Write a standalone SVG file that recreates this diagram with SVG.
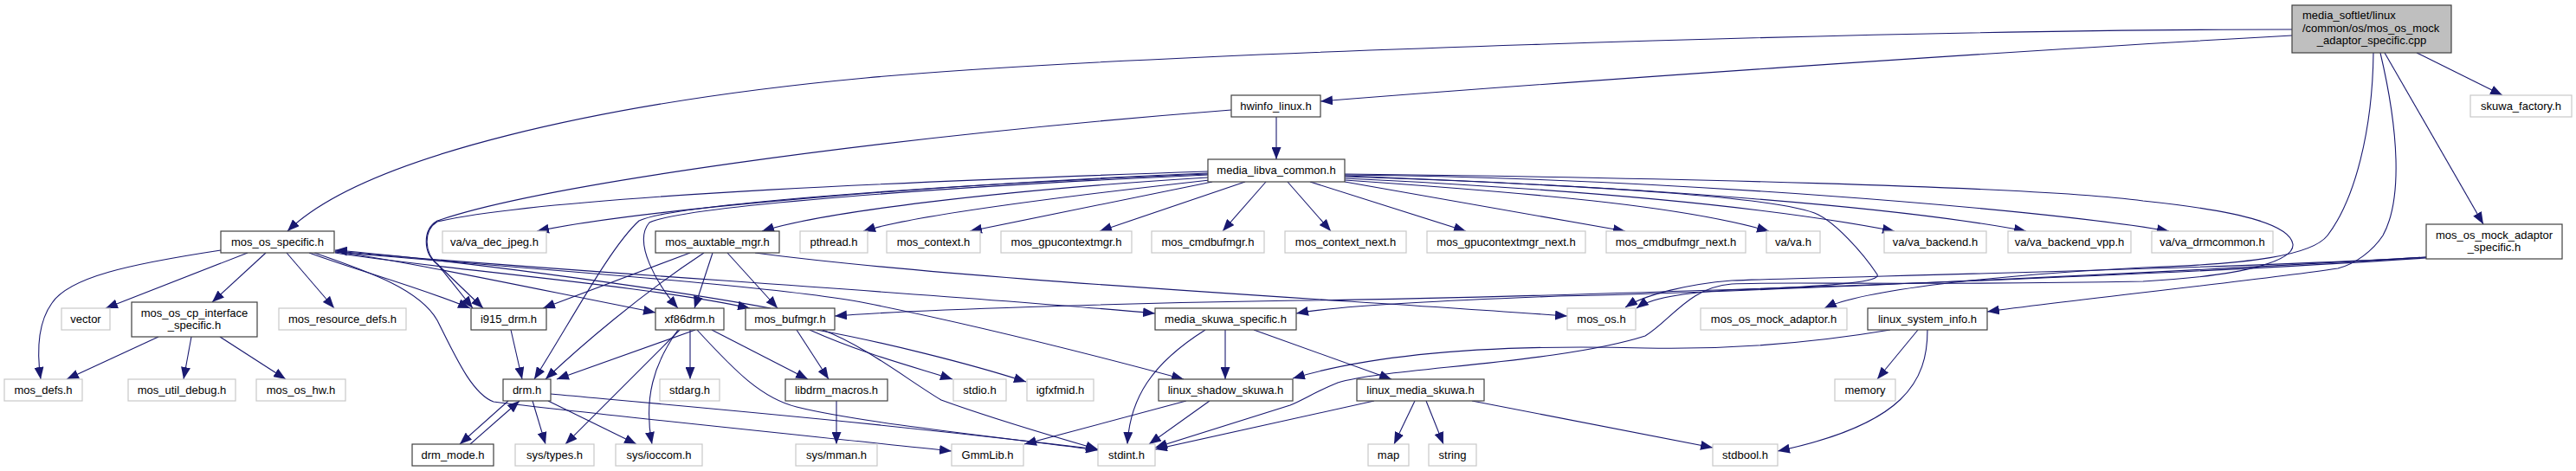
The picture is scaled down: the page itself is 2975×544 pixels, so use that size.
<svg xmlns="http://www.w3.org/2000/svg" width="2975" height="544" viewBox="0 0 2975 544">
<style>
text{font-family:"Liberation Sans",Arial,sans-serif;font-size:13px;fill:#000;text-anchor:middle}
.d rect{fill:#fff;stroke:#404040;stroke-width:1.2}
.g rect{fill:#fff;stroke:#c8c8c8;stroke-width:1.2}
.r rect{fill:#bfbfbf;stroke:#404040;stroke-width:1.2}
#edges path{fill:none;stroke:#191970;stroke-width:1.1;marker-end:url(#a)}
</style>
<defs>
<marker id="a" markerWidth="14" markerHeight="11" refX="14" refY="5.5" orient="auto" markerUnits="userSpaceOnUse"><path d="M0,0 L14,5.5 L0,11 z" fill="#191970"/></marker>
</defs>
<rect width="2975" height="544" fill="#fff"/>
<g id="edges">
<path d="M2647,34 C2200,34 1300,62 1000,90 C700,118 420,180 332,267"/>
<path d="M2647,41 C2300,60 1800,95 1525,117"/>
<path d="M2791,61 L2890,110"/>
<path d="M2754,61 L2868,259"/>
<path d="M1474,135 L1474,184"/>
<path d="M1422,127 C1000,160 620,215 505,255 C488,265 488,292 505,305 L558,356"/>
<path d="M1395,198 C1100,208 640,225 505,256 C489,266 489,292 506,306 L546,356"/>
<path d="M1395,200 C1100,212 750,240 620,267"/>
<path d="M1395,201 C1100,213 780,235 738,255 C705,285 660,370 617,438"/>
<path d="M1395,202 C1100,215 790,238 750,257 C730,280 760,330 783,356"/>
<path d="M1395,205 C1150,220 950,245 880,267"/>
<path d="M1397,208 C1200,230 1050,250 997,267"/>
<path d="M1400,210 L1120,267"/>
<path d="M1438,210 L1270,267"/>
<path d="M1462,210 L1412,267"/>
<path d="M1487,210 L1537,267"/>
<path d="M1513,210 L1693,267"/>
<path d="M1553,210 L1877,267"/>
<path d="M1553,208 C1800,225 1950,240 2043,267"/>
<path d="M1553,206 C1850,220 2050,240 2188,267"/>
<path d="M1553,204 C1900,215 2200,240 2340,267"/>
<path d="M1553,202 C1900,205 2350,240 2505,267"/>
<path d="M1553,203 C1850,215 2060,228 2100,248 C2120,258 2150,290 2168,317 C2172,325 2130,330 2000,335 C1940,338 1905,345 1890,356"/>
<path d="M1553,201 C1900,205 2350,215 2475,232 C2600,245 2645,262 2648,282 C2650,300 2600,318 2475,325 C2200,330 2050,325 2000,328 C1950,332 1930,370 1900,388 C1800,420 1600,425 1545,442 C1520,452 1505,462 1490,468 L1334,517"/>
<path d="M286,292 L122,356"/>
<path d="M307,292 L245,349"/>
<path d="M331,292 L386,356"/>
<path d="M255,289 C150,305 80,320 60,350 C42,375 43,410 47,438"/>
<path d="M183,389 L77,438"/>
<path d="M221,389 L212,438"/>
<path d="M254,389 L330,438"/>
<path d="M357,292 C420,315 480,330 543,356"/>
<path d="M363,292 C430,315 485,335 505,370 C525,410 545,455 570,464 C700,480 950,505 1099,521"/>
<path d="M387,291 C450,298 600,330 757,361"/>
<path d="M387,292 C500,310 750,330 866,356"/>
<path d="M890,356 C750,330 500,298 387,289"/>
<path d="M387,290 C600,310 1100,340 1334,362"/>
<path d="M387,291 C600,310 900,330 1000,350 C1150,380 1300,420 1367,438"/>
<path d="M797,292 L627,356"/>
<path d="M813,292 C740,340 670,400 630,438"/>
<path d="M823,292 L802,356"/>
<path d="M840,292 L898,356"/>
<path d="M872,292 C1100,322 1500,343 1810,365"/>
<path d="M590,381 L603,438"/>
<path d="M803,381 L643,438"/>
<path d="M785,381 L653,513"/>
<path d="M783,381 C755,420 743,460 753,513"/>
<path d="M797,381 L797,438"/>
<path d="M822,381 L933,438"/>
<path d="M805,381 C850,430 880,460 920,470 C1000,490 1200,510 1268,520"/>
<path d="M920,381 L957,438"/>
<path d="M935,381 C1000,410 1060,425 1100,438"/>
<path d="M943,381 C1020,395 1120,420 1185,441"/>
<path d="M950,381 C1000,400 1050,440 1087,462 C1150,485 1220,505 1268,519"/>
<path d="M587,463 L531,513"/>
<path d="M543,513 L600,463"/>
<path d="M615,463 L630,513"/>
<path d="M633,463 L735,513"/>
<path d="M636,455 C800,470 1000,487 1268,519"/>
<path d="M966,463 L966,513"/>
<path d="M1415,381 L1415,438"/>
<path d="M1392,381 C1330,420 1305,460 1302,513"/>
<path d="M1448,381 L1607,438"/>
<path d="M1370,463 L1183,513"/>
<path d="M1397,463 L1327,513"/>
<path d="M1634,463 L1610,513"/>
<path d="M1647,463 L1667,513"/>
<path d="M1700,463 L1978,517"/>
<path d="M1587,463 L1334,519"/>
<path d="M2215,381 L2168,438"/>
<path d="M2226,381 C2226,440 2200,490 2053,521"/>
<path d="M2183,381 C2100,395 2000,404 1900,402 C1750,398 1600,405 1493,437"/>
<path d="M2741,61 C2740,150 2720,230 2688,272 C2670,295 2600,305 2475,309 C2300,318 2150,335 2107,356"/>
<path d="M2749,61 C2770,150 2775,230 2752,272 C2740,290 2720,305 2700,310 C2600,325 2400,345 2295,360"/>
<path d="M2802,297 C2600,310 2100,320 2000,324 C1950,328 1900,340 1877,355"/>
<path d="M2802,297 C2500,315 2000,338 1800,342 C1700,346 1550,352 1497,362"/>
<path d="M2802,298 C2400,325 1700,345 1500,347 C1300,350 1050,358 964,365"/>
</g>
<g id="root" class="r"><rect x="2647" y="6" width="184" height="55"/><text x="2659" y="22" style="text-anchor:start">media_softlet/linux</text><text x="2659" y="37" style="text-anchor:start">/common/os/mos_os_mock</text><text x="2739" y="51">_adaptor_specific.cpp</text></g>
<g id="hwinfo_linux" class="d"><rect x="1422" y="110" width="103" height="25"/><text x="1473.5" y="127">hwinfo_linux.h</text></g>
<g id="skuwa_factory" class="g"><rect x="2853" y="110" width="117" height="25"/><text x="2911.5" y="127">skuwa_factory.h</text></g>
<g id="media_libva_common" class="d"><rect x="1395" y="184" width="158" height="26"/><text x="1474" y="201">media_libva_common.h</text></g>
<g id="mos_os_specific" class="d"><rect x="255" y="267" width="131" height="25"/><text x="320.5" y="284">mos_os_specific.h</text></g>
<g id="va_dec_jpeg" class="g"><rect x="511" y="267" width="120" height="25"/><text x="571" y="284">va/va_dec_jpeg.h</text></g>
<g id="mos_auxtable_mgr" class="d"><rect x="757" y="267" width="143" height="25"/><text x="828.5" y="284">mos_auxtable_mgr.h</text></g>
<g id="pthread" class="g"><rect x="924" y="267" width="78" height="25"/><text x="963" y="284">pthread.h</text></g>
<g id="mos_context" class="g"><rect x="1024" y="267" width="108" height="25"/><text x="1078" y="284">mos_context.h</text></g>
<g id="mos_gpucontextmgr" class="g"><rect x="1156" y="267" width="151" height="25"/><text x="1231.5" y="284">mos_gpucontextmgr.h</text></g>
<g id="mos_cmdbufmgr" class="g"><rect x="1330" y="267" width="130" height="25"/><text x="1395" y="284">mos_cmdbufmgr.h</text></g>
<g id="mos_context_next" class="g"><rect x="1484" y="267" width="140" height="25"/><text x="1554" y="284">mos_context_next.h</text></g>
<g id="mos_gpucontextmgr_next" class="g"><rect x="1648" y="267" width="183" height="25"/><text x="1739.5" y="284">mos_gpucontextmgr_next.h</text></g>
<g id="mos_cmdbufmgr_next" class="g"><rect x="1855" y="267" width="161" height="25"/><text x="1935.5" y="284">mos_cmdbufmgr_next.h</text></g>
<g id="va_va" class="g"><rect x="2040" y="267" width="62" height="25"/><text x="2071" y="284">va/va.h</text></g>
<g id="va_backend" class="g"><rect x="2176" y="267" width="118" height="25"/><text x="2235" y="284">va/va_backend.h</text></g>
<g id="va_backend_vpp" class="g"><rect x="2319" y="267" width="142" height="25"/><text x="2390" y="284">va/va_backend_vpp.h</text></g>
<g id="va_drmcommon" class="g"><rect x="2485" y="267" width="140" height="25"/><text x="2555" y="284">va/va_drmcommon.h</text></g>
<g id="mos_os_mock_adaptor_specific" class="d"><rect x="2802" y="259" width="157" height="40"/><text x="2880.5" y="276">mos_os_mock_adaptor</text><text x="2880.5" y="290">_specific.h</text></g>
<g id="vector" class="g"><rect x="71" y="356" width="56" height="25"/><text x="99" y="373">vector</text></g>
<g id="mos_os_cp_interface_specific" class="d"><rect x="152" y="349" width="145" height="40"/><text x="224.5" y="366">mos_os_cp_interface</text><text x="224.5" y="380">_specific.h</text></g>
<g id="mos_resource_defs" class="g"><rect x="322" y="356" width="147" height="25"/><text x="395.5" y="373">mos_resource_defs.h</text></g>
<g id="i915_drm" class="d"><rect x="544" y="356" width="87" height="25"/><text x="587.5" y="373">i915_drm.h</text></g>
<g id="xf86drm" class="d"><rect x="757" y="356" width="79" height="25"/><text x="796.5" y="373">xf86drm.h</text></g>
<g id="mos_bufmgr" class="d"><rect x="861" y="356" width="103" height="25"/><text x="912.5" y="373">mos_bufmgr.h</text></g>
<g id="media_skuwa_specific" class="d"><rect x="1334" y="356" width="163" height="25"/><text x="1415.5" y="373">media_skuwa_specific.h</text></g>
<g id="mos_os" class="g"><rect x="1810" y="356" width="79" height="25"/><text x="1849.5" y="373">mos_os.h</text></g>
<g id="mos_os_mock_adaptor" class="g"><rect x="1964" y="356" width="169" height="25"/><text x="2048.5" y="373">mos_os_mock_adaptor.h</text></g>
<g id="linux_system_info" class="d"><rect x="2157" y="356" width="138" height="25"/><text x="2226" y="373">linux_system_info.h</text></g>
<g id="mos_defs" class="g"><rect x="5" y="438" width="90" height="25"/><text x="50" y="455">mos_defs.h</text></g>
<g id="mos_util_debug" class="g"><rect x="148" y="438" width="124" height="25"/><text x="210" y="455">mos_util_debug.h</text></g>
<g id="mos_os_hw" class="g"><rect x="296" y="438" width="103" height="25"/><text x="347.5" y="455">mos_os_hw.h</text></g>
<g id="drm" class="d"><rect x="581" y="438" width="55" height="25"/><text x="608.5" y="455">drm.h</text></g>
<g id="stdarg" class="g"><rect x="762" y="438" width="69" height="25"/><text x="796.5" y="455">stdarg.h</text></g>
<g id="libdrm_macros" class="d"><rect x="907" y="438" width="118" height="25"/><text x="966" y="455">libdrm_macros.h</text></g>
<g id="stdio" class="g"><rect x="1101" y="438" width="61" height="25"/><text x="1131.5" y="455">stdio.h</text></g>
<g id="igfxfmid" class="g"><rect x="1186" y="438" width="77" height="25"/><text x="1224.5" y="455">igfxfmid.h</text></g>
<g id="linux_shadow_skuwa" class="d"><rect x="1338" y="438" width="155" height="25"/><text x="1415.5" y="455">linux_shadow_skuwa.h</text></g>
<g id="linux_media_skuwa" class="d"><rect x="1567" y="438" width="147" height="25"/><text x="1640.5" y="455">linux_media_skuwa.h</text></g>
<g id="memory" class="g"><rect x="2119" y="438" width="70" height="25"/><text x="2154" y="455">memory</text></g>
<g id="drm_mode" class="d"><rect x="476" y="513" width="94" height="25"/><text x="523" y="530">drm_mode.h</text></g>
<g id="sys_types" class="g"><rect x="595" y="513" width="91" height="25"/><text x="640.5" y="530">sys/types.h</text></g>
<g id="sys_ioccom" class="g"><rect x="711" y="513" width="100" height="25"/><text x="761" y="530">sys/ioccom.h</text></g>
<g id="sys_mman" class="g"><rect x="919" y="513" width="94" height="25"/><text x="966" y="530">sys/mman.h</text></g>
<g id="GmmLib" class="g"><rect x="1099" y="513" width="83" height="25"/><text x="1140.5" y="530">GmmLib.h</text></g>
<g id="stdint" class="g"><rect x="1268" y="513" width="66" height="25"/><text x="1301" y="530">stdint.h</text></g>
<g id="map" class="g"><rect x="1580" y="513" width="47" height="25"/><text x="1603.5" y="530">map</text></g>
<g id="string" class="g"><rect x="1650" y="513" width="55" height="25"/><text x="1677.5" y="530">string</text></g>
<g id="stdbool" class="g"><rect x="1978" y="513" width="75" height="25"/><text x="2015.5" y="530">stdbool.h</text></g>
</svg>
